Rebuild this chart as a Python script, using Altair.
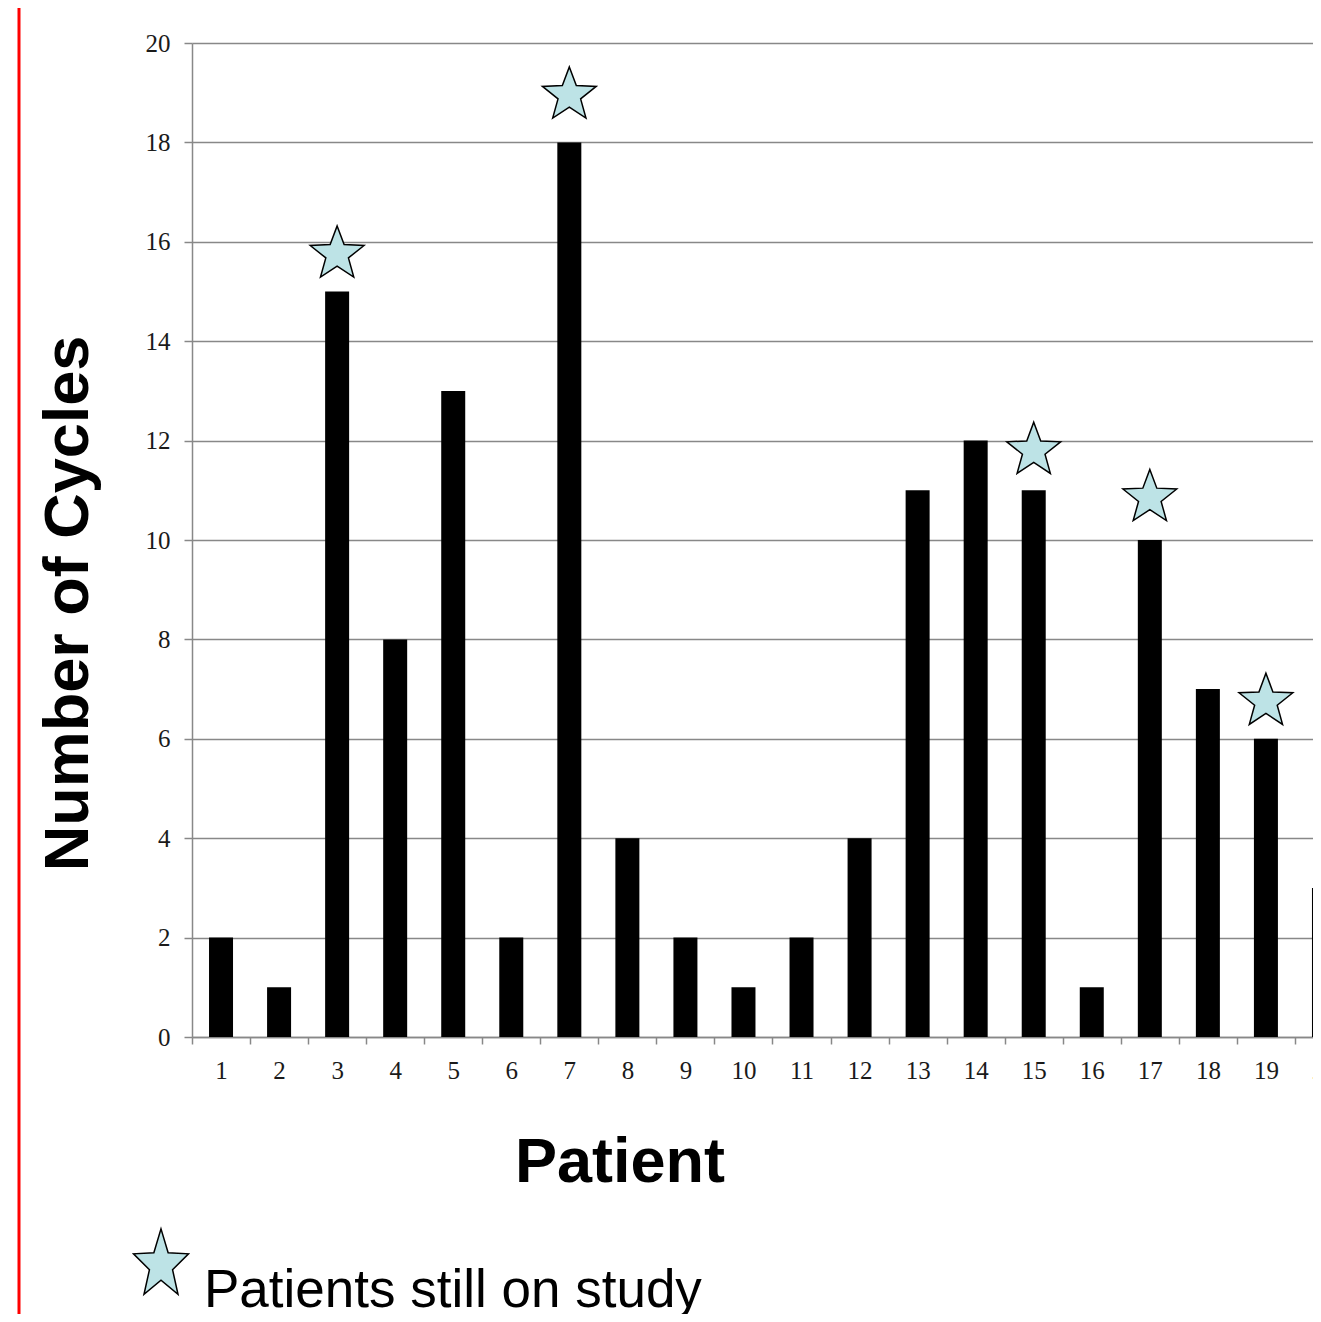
import math
import altair as alt
import pandas as pd

# ---- data ----
patients = list(range(1, 21))
cycles = [2, 1, 15, 8, 13, 2, 18, 4, 2, 1, 2, 4, 11, 12, 11, 1, 10, 7, 6, 3]
on_study_patients = [3, 7, 15, 17, 19]
on_study_marker_y = [15.75, 18.95, 11.8, 10.85, 6.75]
y_ticks = [0, 2, 4, 6, 8, 10, 12, 14, 16, 18, 20]
legend_label = "Patients still on study"


def star_path(stretch_y=1.0, inner=0.42):
    pts = []
    for k in range(10):
        r = 1.0 if k % 2 == 0 else inner
        a = math.radians(-90 + 36 * k)
        pts.append(f"{r * math.cos(a):.4f},{r * math.sin(a) * stretch_y:.4f}")
    return "M" + " L".join(pts) + " Z"


STAR = star_path()
STAR_LEGEND = star_path(1.25)

bars_df = pd.DataFrame({"patient": patients, "cycles": cycles})
stars_df = pd.DataFrame({
    "patient": on_study_patients,
    "y": on_study_marker_y,
    "status": [legend_label] * len(on_study_patients),
})

W, H = 1121, 994
x_scale = alt.Scale(type="band", domain=patients, range=[0, 1161],
                    paddingInner=0, paddingOuter=0)
y_scale = alt.Scale(domain=[0, 20], nice=False)

x_axis = alt.Axis(
    title="Patient", titleFont="Liberation Sans", titleFontWeight="bold",
    titleFontSize=63, titleColor="black", titleX=427.5, titleY=144,
    titleAlign="center", titleBaseline="alphabetic",
    labelAngle=0, labelFont="Liberation Serif", labelFontSize=25,
    labelColor="#1a1a1a", labelPadding=34, labelBaseline="alphabetic",
    tickBand="extent", tickSize=7, tickColor="#888888", tickWidth=1.5,
    domainColor="#888888", domainWidth=1.5, grid=False,
)
y_axis = alt.Axis(
    title="Number of Cycles", titleFont="Liberation Sans",
    titleFontWeight="bold", titleFontSize=63, titleColor="black",
    titleAngle=270, titleX=-105, titleY=560, titleAlign="center",
    titleBaseline="alphabetic",
    values=y_ticks, labelFont="Liberation Serif", labelFontSize=25,
    labelColor="#1a1a1a", labelPadding=14,
    tickSize=8, tickColor="#888888", tickWidth=1.5,
    domainColor="#888888", domainWidth=1.5,
    grid=True, gridColor="#888888", gridWidth=1.5,
)

bars = alt.Chart(bars_df).mark_bar(size=24, color="black").encode(
    x=alt.X("patient:O", scale=x_scale, axis=x_axis),
    y=alt.Y("cycles:Q", scale=y_scale, axis=y_axis),
)

stars = alt.Chart(stars_df).mark_point(
    shape=STAR, size=3200, filled=True, stroke="black", strokeWidth=1.5,
    opacity=1,
).encode(
    x=alt.X("patient:O", scale=x_scale),
    y=alt.Y("y:Q", scale=y_scale),
    fill=alt.Fill(
        "status:N", scale=alt.Scale(range=["#bde3e6"]),
        legend=alt.Legend(
            title=None, orient="none", legendX=-61, legendY=1192,
            symbolType=STAR_LEGEND, symbolSize=3345,
            symbolStrokeColor="black", symbolStrokeWidth=1.5,
            symbolOpacity=1, labelFont="Liberation Sans",
            labelFontSize=53, labelColor="black", labelBaseline="top",
            labelOffset=13, labelLimit=2000, padding=0,
        ),
    ),
)

red_line = alt.Chart(pd.DataFrame({"a": [0]})).mark_rule(
    color="#ff0000", strokeWidth=3
).encode(x=alt.value(-173), y=alt.value(-35), y2=alt.value(1271))

chart = alt.layer(bars, stars, red_line).properties(
    width=W, height=H,
    autosize=alt.AutoSizeParams(type="none"),
    padding={"left": 184, "top": 35, "right": 0, "bottom": 277},
).configure_view(stroke=None)

chart.save("out.html", embed_options={"renderer": "svg", "actions": False})
